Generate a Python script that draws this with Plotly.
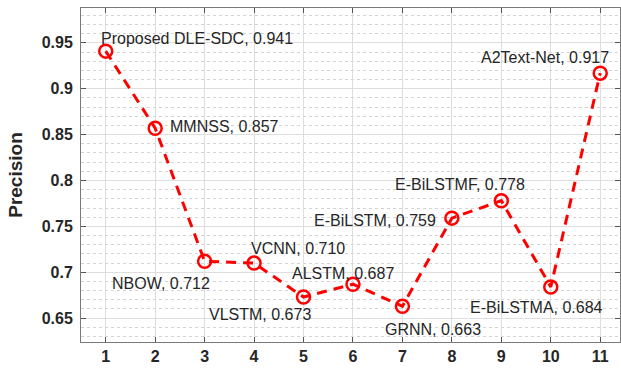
import plotly.graph_objects as go

# data
methods = ["Proposed DLE-SDC", "MMNSS", "NBOW", "VCNN", "VLSTM", "ALSTM", "GRNN",
           "E-BiLSTM", "E-BiLSTMF", "E-BiLSTMA", "A2Text-Net"]
x_idx = [1, 2, 3, 4, 5, 6, 7, 8, 9, 10, 11]
precision = [0.941, 0.857, 0.712, 0.710, 0.673, 0.687, 0.663, 0.759, 0.778, 0.684, 0.917]
y_ticks = [0.65, 0.7, 0.75, 0.8, 0.85, 0.9, 0.95]
y_tick_text = ["0.65", "0.7", "0.75", "0.8", "0.85", "0.9", "0.95"]

# label placement (anchor, xshift px, yshift px)
label_pos = [
    ("left", -7, 13),
    ("left", 13, 2),
    ("right", 7, -22),
    ("left", -5, 15),
    ("right", 9, -17),
    ("center", -10, 11),
    ("center", 31, -23),
    ("right", -14, -2),
    ("center", -41, 16),
    ("center", -14, -21),
    ("center", -55, 16),
]

red = "#ff0000"
txt = "#262626"

fig = go.Figure()
fig.add_trace(go.Scatter(
    x=x_idx, y=precision, mode="lines+markers",
    line=dict(color=red, width=3, dash="10px,7px"),
    marker=dict(symbol="circle-open", size=13, color=red, line=dict(width=2.5, color=red)),
    showlegend=False, hoverinfo="skip",
))

for xi, yi, name, (anc, dx, dy) in zip(x_idx, precision, methods, label_pos):
    fig.add_annotation(
        x=xi, y=yi, xref="x", yref="y",
        text=f"{name}, {yi:.3f}", showarrow=False,
        xanchor=anc, yanchor="middle", xshift=dx, yshift=dy,
        font=dict(family="Liberation Sans, Arial, sans-serif", size=16, color=txt),
    )

fig.update_layout(
    width=621, height=373,
    margin=dict(l=81, r=1, t=8, b=31),
    paper_bgcolor="white", plot_bgcolor="white",
    font=dict(family="Liberation Sans, Arial, sans-serif", color=txt),
)
fig.update_xaxes(
    range=[0.5, 11.4], tickvals=x_idx, ticktext=[str(v) for v in x_idx],
    showgrid=True, gridcolor="#dedede", gridwidth=1,
    showline=True, linecolor="#7a7a7a", linewidth=1, mirror="ticks",
    ticks="inside", ticklen=5, tickcolor="#555555",
    tickfont=dict(size=16, color=txt, weight="bold"),
    zeroline=False,
)
fig.update_yaxes(
    range=[0.624, 0.988], tickvals=y_ticks, ticktext=y_tick_text,
    showgrid=True, gridcolor="#dedede", gridwidth=1,
    minor=dict(dtick=0.01, tick0=0, showgrid=True, gridcolor="#d4d4d4", griddash="dot", gridwidth=1),
    showline=True, linecolor="#7a7a7a", linewidth=1, mirror="ticks",
    ticks="inside", ticklen=5, tickcolor="#555555",
    tickfont=dict(size=16, color=txt, weight="bold"),
    ticklabelstandoff=4,
    title=dict(text="Precision", font=dict(size=19, color=txt, weight="bold"), standoff=14),
    zeroline=False,
)

fig.write_html("out.html")
